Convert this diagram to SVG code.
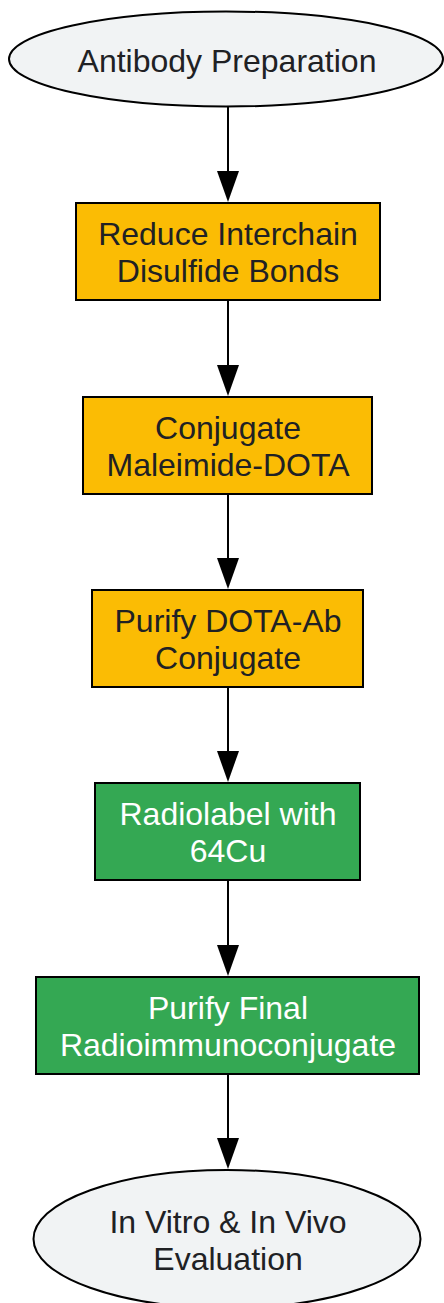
<svg xmlns="http://www.w3.org/2000/svg" width="444" height="1303" viewBox="0 0 444 1303">
<style>
.n{stroke:#000;stroke-width:2}
.g{fill:#F1F3F4}
.o{fill:#FBBC04}
.gr{fill:#34A853}
text{font-family:"Liberation Sans",Arial,sans-serif;font-size:32px;text-anchor:middle;fill:#202124}
.w{fill:#FFFFFF}
.e{stroke:#000;stroke-width:2;fill:none}
.h{fill:#000}
</style>
<g id="edges">
<line class="e" x1="228" y1="107" x2="228" y2="171"/><path class="h" d="M217,171 L239,171 L228,202 Z"/>
<line class="e" x1="228" y1="300" x2="228" y2="365"/><path class="h" d="M217,365 L239,365 L228,396 Z"/>
<line class="e" x1="228" y1="494" x2="228" y2="558"/><path class="h" d="M217,558 L239,558 L228,589 Z"/>
<line class="e" x1="228" y1="687" x2="228" y2="751"/><path class="h" d="M217,751 L239,751 L228,782 Z"/>
<line class="e" x1="228" y1="880" x2="228" y2="945"/><path class="h" d="M217,945 L239,945 L228,976 Z"/>
<line class="e" x1="228" y1="1074" x2="228" y2="1138"/><path class="h" d="M217,1138 L239,1138 L228,1169 Z"/>
</g>
<g id="n1"><ellipse class="n g" cx="226" cy="59" rx="217" ry="47.5"/><text x="227" y="72">Antibody Preparation</text></g>
<g id="n2"><rect class="n o" x="76" y="203" width="304" height="97"/><text x="228" y="245">Reduce Interchain</text><text x="228" y="282">Disulfide Bonds</text></g>
<g id="n3"><rect class="n o" x="83" y="397" width="289" height="97"/><text x="228" y="439">Conjugate</text><text x="228" y="476">Maleimide-DOTA</text></g>
<g id="n4"><rect class="n o" x="92" y="590" width="271" height="97"/><text x="228" y="632">Purify DOTA-Ab</text><text x="228" y="669">Conjugate</text></g>
<g id="n5"><rect class="n gr" x="95" y="783" width="265" height="97"/><text class="w" x="228" y="825">Radiolabel with</text><text class="w" x="228" y="862">64Cu</text></g>
<g id="n6"><rect class="n gr" x="36" y="977" width="383" height="97"/><text class="w" x="228" y="1019">Purify Final</text><text class="w" x="228" y="1056">Radioimmunoconjugate</text></g>
<g id="n7"><ellipse class="n g" cx="227" cy="1239" rx="193.5" ry="69"/><text x="228" y="1233">In Vitro &amp; In Vivo</text><text x="228" y="1270">Evaluation</text></g>
</svg>
